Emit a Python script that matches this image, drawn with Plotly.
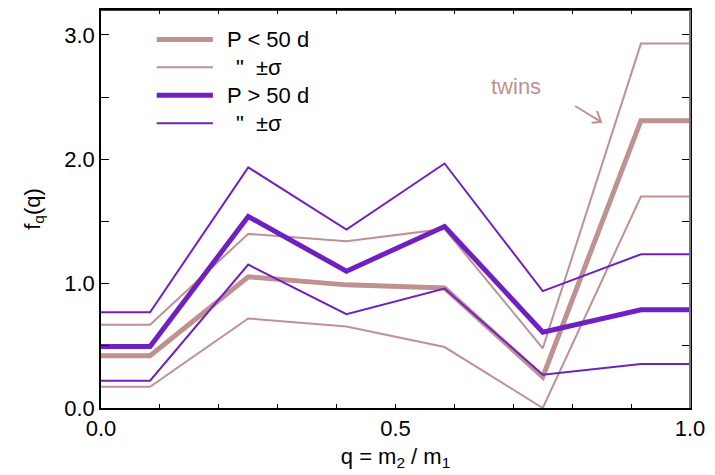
import plotly.graph_objects as go

# ---- data ----
q = [0.0, 0.0833, 0.25, 0.4167, 0.5833, 0.75, 0.9167, 1.0]
short_mid = [0.42, 0.42, 1.055, 0.99, 0.965, 0.25, 2.31, 2.31]
short_hi = [0.67, 0.67, 1.40, 1.34, 1.44, 0.48, 2.93, 2.93]
short_lo = [0.17, 0.17, 0.72, 0.655, 0.49, 0.0, 1.70, 1.70]
long_mid = [0.495, 0.495, 1.54, 1.10, 1.46, 0.61, 0.79, 0.79]
long_hi = [0.77, 0.77, 1.935, 1.434, 1.966, 0.94, 1.236, 1.236]
long_lo = [0.22, 0.22, 1.153, 0.754, 0.96, 0.268, 0.354, 0.354]

x_tickvals = [0.0, 0.1, 0.2, 0.3, 0.4, 0.5, 0.6, 0.7, 0.8, 0.9, 1.0]
x_ticktext = ["0.0", "", "", "", "", "0.5", "", "", "", "", "1.0"]
y_tickvals = [0.0, 0.5, 1.0, 1.5, 2.0, 2.5, 3.0]
y_ticktext = ["0.0", "", "1.0", "", "2.0", "", "3.0"]

legend_labels = ["P < 50 d", "\"", "P > 50 d", "\""]

PINK = "#c09191"
PURPLE = "#7020c2"
FONT = "Liberation Sans, Arial, sans-serif"
FS = 22

fig = go.Figure()
for ys, col, w in [(short_lo, PINK, 2), (short_hi, PINK, 2), (short_mid, PINK, 5),
                   (long_lo, PURPLE, 2), (long_hi, PURPLE, 2), (long_mid, PURPLE, 5)]:
    fig.add_trace(go.Scatter(x=q, y=ys, mode="lines",
                             line=dict(color=col, width=w),
                             showlegend=False, hoverinfo="skip"))

# ---- manual legend (data coords) ----
leg_rows = [(2.962, PINK, 5, legend_labels[0]),
            (2.74, PINK, 2, legend_labels[1]),
            (2.514, PURPLE, 5, legend_labels[2]),
            (2.29, PURPLE, 2, legend_labels[3])]
for yy, col, w, lab in leg_rows:
    fig.add_shape(type="line", xref="x", yref="y", x0=0.0946, x1=0.19, y0=yy, y1=yy,
                  line=dict(color=col, width=w))
    if lab == "\"":
        fig.add_annotation(x=0.226, y=yy, xref="x", yref="y", text="\"",
                           showarrow=False, xanchor="left", yanchor="middle",
                           font=dict(family=FONT, size=FS, color="black"))
        fig.add_annotation(x=0.259, y=yy, xref="x", yref="y", text="±σ",
                           showarrow=False, xanchor="left", yanchor="middle",
                           font=dict(family=FONT, size=FS, color="black"))
    else:
        fig.add_annotation(x=0.2105, y=yy, xref="x", yref="y", text=lab,
                           showarrow=False, xanchor="left", yanchor="middle",
                           font=dict(family=FONT, size=FS, color="black"))

# ---- twins label + open arrow ----
fig.add_annotation(x=0.704, y=2.588, xref="x", yref="y", text="twins",
                   showarrow=False, xanchor="center", yanchor="middle",
                   font=dict(family=FONT, size=FS, color=PINK))
fig.add_shape(type="path", xref="x", yref="y",
              path="M 0.805 2.428 L 0.849 2.300 M 0.842 2.388 L 0.849 2.300 L 0.833 2.294",
              line=dict(color=PINK, width=2))

# frame edges
fig.add_shape(type="line", xref="paper", yref="paper", x0=0, x1=1, y0=1, y1=1,
              line=dict(color="black", width=1.5))
fig.add_shape(type="line", xref="paper", yref="paper", x0=1, x1=1, y0=0, y1=1,
              line=dict(color="#777777", width=2))

fig.update_layout(
    width=715, height=475,
    margin=dict(l=101, r=25, t=8, b=67),
    paper_bgcolor="white", plot_bgcolor="white",
    font=dict(family=FONT, size=FS, color="black"),
    showlegend=False,
)
fig.update_xaxes(range=[0, 1], tickvals=x_tickvals, ticktext=x_ticktext,
                 ticks="inside", ticklen=4, tickcolor="black", tickwidth=1,
                 showline=True, linecolor="black", linewidth=1.5, mirror="ticks",
                 showgrid=False, zeroline=False,
                 title=dict(text="q = m<sub>2</sub> / m<sub>1</sub>", standoff=8,
                            font=dict(size=FS)))
fig.update_yaxes(range=[0, 3.2], tickvals=y_tickvals, ticktext=y_ticktext,
                 ticks="inside", ticklen=8, tickcolor="black", tickwidth=1,
                 showline=True, linecolor="black", linewidth=1.5, mirror="ticks",
                 showgrid=False, zeroline=False,
                 title=dict(text="f<sub>q</sub>(q)", standoff=18, font=dict(size=FS)))

fig.write_html("out.html", config={"displayModeBar": False},
               post_script="document.body.style.margin='0px';document.body.style.padding='0px';")
